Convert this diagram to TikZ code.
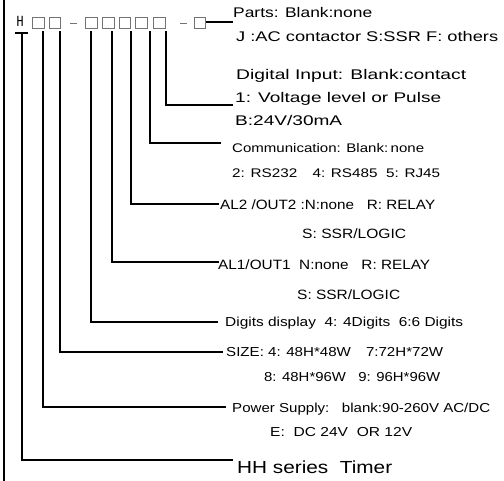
\documentclass[tikz,border=0pt]{standalone}
\usepackage{fontspec}
\setmainfont{Liberation Sans}
\newfontfamily\monof{DejaVu Sans Mono}
\usepackage{graphicx}
\newcommand\fitlbl[3]{\fontsize{#1}{#1}\selectfont\resizebox{#2pt}{\height}{#3}}
\begin{document}
\begin{tikzpicture}[x=1pt,y=-1pt,
  wire/.style={line width=2pt,line cap=rect},
  cbox/.style={draw=black!55,line width=0.8pt,minimum width=11.5pt,minimum height=11pt,inner sep=0,anchor=north west},
  lbl/.style={anchor=base west,inner sep=0}]
\useasboundingbox (0,0) rectangle (504,481);
% code string
\node[inner sep=0,anchor=base] (h) at (20,27) {\monof\fontsize{14}{14}\selectfont\resizebox{7pt}{\height}{H}};
\node[cbox] (b1) at (32,17) {};
\node[cbox] (b2) at (48.5,17) {};
\draw[black!55,line width=0.9pt] (70,23) -- (77,23);
\node[cbox] (b3) at (85,17) {};
\node[cbox] (b4) at (102,17) {};
\node[cbox] (b5) at (118.5,17) {};
\node[cbox] (b6) at (135,17) {};
\node[cbox] (b7) at (153,17) {};
\draw[black!55,line width=0.9pt] (180,23) -- (187,23);
\node[cbox] (b8) at (193.5,17) {};
% labels
\node[lbl] (parts) at (233,{13+5}) {\fitlbl{14}{139}{Parts: Blank:none}};
\node[lbl] (partsb) at (236,{37+5}) {\fitlbl{14}{262}{J :AC contactor S:SSR F: others}};
\node[lbl] (din) at (236,{75+5}) {\fitlbl{14}{230}{Digital Input: Blank:contact}};
\node[lbl] (dinb) at (235,{98+5}) {\fitlbl{14}{206}{1: Voltage level or Pulse}};
\node[lbl] (dinc) at (235,{121+5}) {\fitlbl{14}{107}{B:24V/30mA}};
\node[lbl] (com) at (232,{148+4.5}) {\fitlbl{12.5}{192}{Communication: Blank:\,none}};
\node[lbl] (comb) at (232,{173+4.5}) {\fitlbl{12.5}{208}{2: RS232\quad 4: RS485\ \ 5: RJ45}};
\node[lbl] (al2) at (220,{205+4.8}) {\fitlbl{13.5}{215}{AL2 /OUT2 :N:none\ \ \ R: RELAY}};
\node[lbl] (al2b) at (302,{234+4.8}) {\fitlbl{13.5}{104}{S: SSR/LOGIC}};
\node[lbl] (al1) at (218,{265+4.8}) {\fitlbl{13.5}{212}{AL1/OUT1\ \ N:none\ \ \ R: RELAY}};
\node[lbl] (al1b) at (297,{295+4.8}) {\fitlbl{13.5}{103}{S: SSR/LOGIC}};
\node[lbl] (dig) at (225,{322+4.6}) {\fitlbl{13}{238}{Digits display\ \ 4: 4Digits\ \ 6:6 Digits}};
\node[lbl] (size) at (226,{352+4.6}) {\fitlbl{13}{217}{SIZE: 4: 48H*48W\quad 7:72H*72W}};
\node[lbl] (sizeb) at (264,{377+4.6}) {\fitlbl{13}{176}{8: 48H*96W\ \ \ 9: 96H*96W}};
\node[lbl] (pow) at (232,{408+4.6}) {\fitlbl{13}{258}{Power Supply:\ \ \ blank:90-260V AC/DC}};
\node[lbl] (powb) at (270,{432+4.6}) {\fitlbl{13}{142}{E:\ \ DC 24V\ \ OR 12V}};
\node[lbl] (hh) at (237,{467+6.2}) {\fitlbl{17.5}{155}{HH series\ \ Timer}};
% connector end points
\coordinate (e8) at (233,22);
\coordinate (e7) at (232,105);
\coordinate (e6) at (220,143);
\coordinate (e5) at (218,204);
\coordinate (e4) at (218,262);
\coordinate (e3) at (217,322);
\coordinate (e2) at (222,352);
\coordinate (e1) at (225,407);
\coordinate (e0) at (232,460);
\coordinate (ltop) at (4,0);
\coordinate (lbot) at (4,481);
% connectors
\draw[line width=2pt] (b8.east |- e8) -- (e8);
\draw[wire] (166,32) |- (e7);
\draw[wire] (150,32) |- (e6);
\draw[wire] (131,32) |- (e5);
\draw[wire] (112,32) |- (e4);
\draw[wire] (91,32) |- (e3);
\draw[wire] (60,32) |- (e2);
\draw[wire] (43,32) |- (e1);
\draw[wire] (22,33) |- (e0);
\draw[line width=2pt] (15,33) -- (28,33);
\draw[line width=2.4pt] (ltop) -- (lbot);
\end{tikzpicture}
\end{document}
